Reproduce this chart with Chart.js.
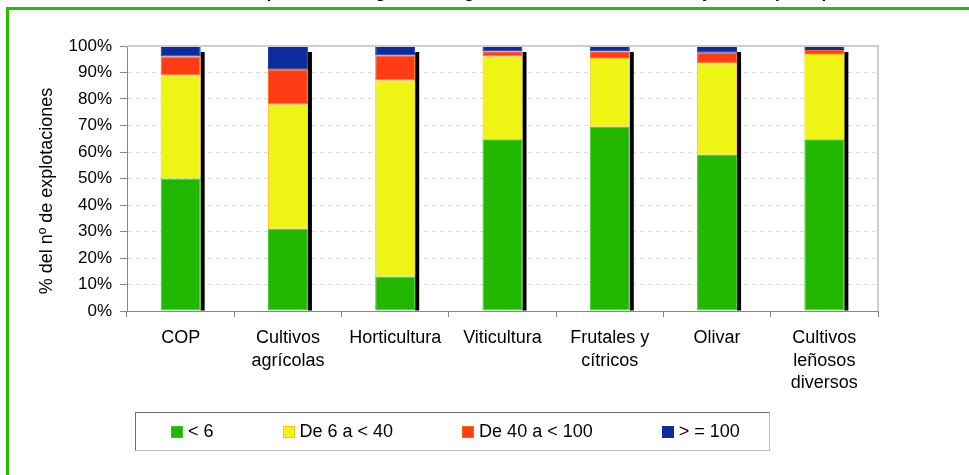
<!DOCTYPE html>
<html>
<head>
<meta charset="utf-8">
<script src="https://cdn.jsdelivr.net/npm/chart.js@4/dist/chart.umd.min.js"></script>
<style>
    body { margin: 0; background: #fff; overflow: hidden; }
    #wrap { position: relative; width: 969px; height: 475px; overflow: hidden; font-family: "Liberation Sans", Arial, sans-serif; }
    #topTitle { position: absolute; left: 8px; top: -17px; font-weight: bold; font-size: 17px; line-height: 20px; white-space: nowrap; color: #000; }
    #frame { position: absolute; left: 6px; top: 7px; width: 1000px; height: 600px; border: 3px solid #22c000; pointer-events: none; }
    #legend { position: absolute; left: 135px; top: 412px; width: 598px; height: 37px; border-top: 1px solid #707070; border-left: 1px solid #707070; border-right: 1px solid #bdbdbd; border-bottom: 1px solid #bdbdbd; display: flex; align-items: center; padding-left: 35px; box-sizing: content-box; gap: 69px; font-size: 18px; }
    #legend .item { display: flex; align-items: center; white-space: nowrap; }
    #legend .sw { width: 10px; height: 10px; border: 1px solid; margin-right: 5px; }
</style>
</head>
<body>
<div id="wrap">
    <div id="topTitle">Gráfico 4. Distribución de las explotaciones agrícolas según la dimensión económica y la OTE principal</div>
    <canvas id="chart"></canvas>
    <div id="frame"></div>
    <div id="legend"></div>
</div>
<script>
// categorias (OTE) y % de explotaciones por tamaño (UDE)
const categories = [
    ['COP'],
    ['Cultivos', 'agrícolas'],
    ['Horticultura'],
    ['Viticultura'],
    ['Frutales y', 'cítricos'],
    ['Olivar'],
    ['Cultivos', 'leñosos', 'diversos']
];
const menos6 = [50, 31, 13, 64.5, 69.5, 59, 64.5];
const de6a40 = [39, 47, 74, 31.5, 26, 34.5, 32.5];
const de40a100 = [7, 13, 9.5, 2, 2.5, 4, 1.5];
const mas100 = [4, 9, 3.5, 2, 2, 2.5, 1.5];
const seriesNames = ['< 6', 'De 6 a < 40', 'De 40 a < 100', '> = 100'];
const yTicks = [0, 10, 20, 30, 40, 50, 60, 70, 80, 90, 100];

const fills = ['#22b800', '#eef514', '#ff3c14', '#0c2c9e'];
const edges = ['#3ccc20', '#ffc51e', '#ff6a10', '#0c2c9e'];
const axisColor = '#7d8a96';
const font = '"Liberation Sans", Arial, sans-serif';

// sombra negra a la derecha de cada barra
const shadowPlugin = {
    id: 'barShadow',
    beforeDatasetsDraw(chart) {
        const ctx = chart.ctx;
        const first = chart.getDatasetMeta(0).data;
        const last = chart.getDatasetMeta(chart.data.datasets.length - 1).data;
        ctx.save();
        ctx.fillStyle = '#000';
        first.forEach((el, i) => {
            const top = last[i].y;
            ctx.fillRect(el.x + el.width / 2, top + 6, 4, el.base - top - 6);
        });
        ctx.restore();
    }
};

// borde superior y derecho del area de trazado
const plotBorder = {
    id: 'plotBorder',
    afterDraw(chart) {
        const { ctx, chartArea: a } = chart;
        ctx.save();
        ctx.strokeStyle = '#c4d2d8';
        ctx.lineWidth = 2;
        ctx.beginPath();
        ctx.moveTo(a.left, a.top);
        ctx.lineTo(a.right, a.top);
        ctx.lineTo(a.right, a.bottom);
        ctx.stroke();
        ctx.restore();
    }
};

const values = [menos6, de6a40, de40a100, mas100];

new Chart(document.getElementById('chart'), {
    type: 'bar',
    data: {
        labels: categories,
        datasets: values.map((v, i) => ({
            label: seriesNames[i],
            data: v,
            backgroundColor: fills[i],
            borderColor: edges[i],
            borderWidth: 1,
            borderSkipped: false,
            categoryPercentage: 1,
            barPercentage: 0.373
        }))
    },
    options: {
        responsive: true,
        maintainAspectRatio: false,
        animation: false,
        layout: { padding: { left: 0, top: 46, right: 91, bottom: 0 } },
        plugins: {
            legend: { display: false },
            tooltip: { enabled: false }
        },
        scales: {
            x: {
                stacked: true,
                afterFit: s => { s.height = 164; },
                border: { color: axisColor, width: 1 },
                grid: { offset: true, drawOnChartArea: false, tickLength: 6, tickColor: axisColor },
                ticks: {
                    color: '#000',
                    padding: 10,
                    maxRotation: 0,
                    autoSkip: false,
                    font: { family: font, size: 18, lineHeight: 1.25 }
                }
            },
            y: {
                stacked: true,
                min: 0,
                max: 100,
                afterFit: s => { s.width = 127; },
                afterBuildTicks: s => { s.ticks = yTicks.map(v => ({ value: v })); },
                border: { color: axisColor, width: 1, dash: [4, 4] },
                grid: {
                    color: c => (c.tick && (c.tick.value === 0 || c.tick.value === 100)) ? 'rgba(0,0,0,0)' : '#d3dde2',
                    tickLength: 7,
                    tickColor: axisColor,
                    tickBorderDash: []
                },
                ticks: {
                    color: '#000',
                    padding: 8,
                    font: { family: font, size: 17 },
                    callback: v => v + '%'
                },
                title: {
                    display: true,
                    // espacios finales para bajar el texto como en el original
                    text: '% del nº de explotaciones\u00a0\u00a0\u00a0\u00a0\u00a0',
                    color: '#000',
                    padding: { top: 36, bottom: 0 },
                    font: { family: font, size: 18 }
                }
            }
        }
    },
    plugins: [shadowPlugin, plotBorder]
});

// leyenda
const legend = document.getElementById('legend');
seriesNames.forEach((name, i) => {
    const item = document.createElement('div');
    item.className = 'item';
    const sw = document.createElement('span');
    sw.className = 'sw';
    sw.style.background = fills[i];
    sw.style.borderColor = edges[i];
    item.appendChild(sw);
    item.appendChild(document.createTextNode(name));
    legend.appendChild(item);
});
</script>
</body>
</html>
